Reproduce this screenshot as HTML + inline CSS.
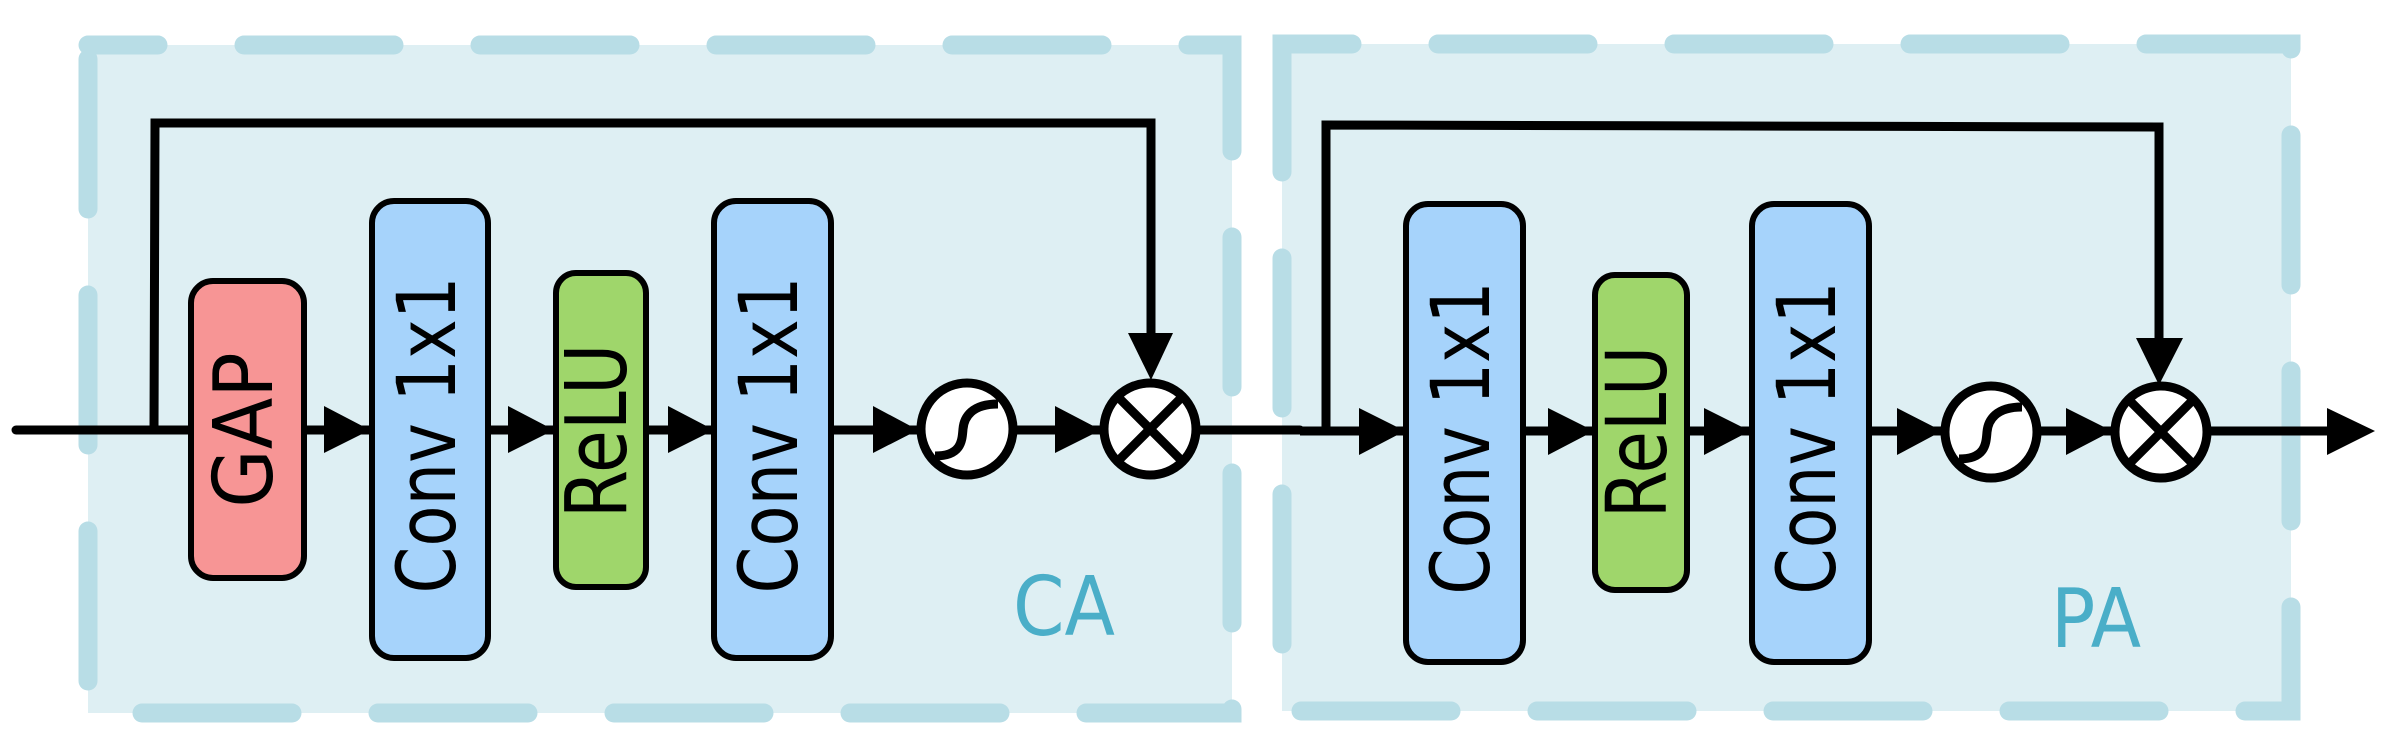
<!DOCTYPE html>
<html><head><meta charset="utf-8"><style>
html,body{margin:0;padding:0;background:#fff;}
svg{display:block;}
text{font-family:"DejaVu Sans",sans-serif;}
</style></head><body>
<svg width="2385" height="751" viewBox="0 0 2385 751" xmlns="http://www.w3.org/2000/svg">
<rect x="88" y="45" width="1144" height="668" fill="#deeff3"/>
<rect x="88" y="45" width="1144" height="668" fill="none" stroke="#b8dde6" stroke-width="19" stroke-linecap="round" stroke-dasharray="150 86" stroke-dashoffset="80"/>
<rect x="1282" y="44" width="1009" height="667" fill="#deeff3"/>
<rect x="1282" y="44" width="1009" height="667" fill="none" stroke="#b8dde6" stroke-width="19" stroke-linecap="round" stroke-dasharray="150 86" stroke-dashoffset="80"/>

<g stroke="#000" stroke-width="9" fill="none" stroke-linejoin="miter">
<line x1="16" y1="430" x2="1300" y2="430" stroke-linecap="round"/>
<line x1="1300" y1="431" x2="2330" y2="431"/>
<polyline points="154,430 155,123 1151,123 1151,340"/>
<polyline points="1326,431 1326,125 2159,127 2159,345"/>
</g>

<g stroke="#000" stroke-width="6">
<rect x="191" y="281" width="113" height="297" rx="22" fill="#f79595"/>
<rect x="372" y="201" width="116" height="457" rx="22" fill="#a6d3fb"/>
<rect x="556" y="273" width="90" height="314" rx="20" fill="#9fd66b"/>
<rect x="714" y="201" width="117" height="457" rx="22" fill="#a6d3fb"/>
<rect x="1406" y="204" width="117" height="458" rx="22" fill="#a6d3fb"/>
<rect x="1595" y="275" width="92" height="315" rx="20" fill="#9fd66b"/>
<rect x="1752" y="204" width="117" height="458" rx="22" fill="#a6d3fb"/>
</g>

<g fill="#000">
<polygon points="324,406 370,430 324,453"/>
<polygon points="508,406 554,430 508,453"/>
<polygon points="668,406 714,430 668,453"/>
<polygon points="873,406 918,430 873,453"/>
<polygon points="1055,406 1101,430 1055,453"/>
<polygon points="1128,333 1173,333 1151,380"/>
<polygon points="1359,408 1405,431 1359,455"/>
<polygon points="1548,408 1594,431 1548,455"/>
<polygon points="1704,408 1750,431 1704,455"/>
<polygon points="1897,408 1942,431 1897,455"/>
<polygon points="2066,408 2112,431 2066,455"/>
<polygon points="2136,338 2183,338 2159,385"/>
<polygon points="2327,408 2375,431 2327,455"/>
</g>

<g stroke="#000" stroke-width="9" fill="#fff">
<circle cx="967" cy="429" r="46"/>
<circle cx="1150" cy="429" r="46"/>
<circle cx="1991" cy="432" r="46"/>
<circle cx="2161" cy="432" r="46"/>
</g>
<g stroke="#000" stroke-width="9" fill="none">
<path d="M935,456 C962,456 962,440 963,429 C964,417 972,404 998,404"/>
<path d="M1959,459 C1986,459 1986,443 1987,432 C1988,420 1996,407 2022,407"/>
<path d="M1118,397 L1182,461 M1182,397 L1118,461"/>
<path d="M2129,400 L2193,464 M2193,400 L2129,464"/>
</g>

<g fill="#000">
<text transform="translate(272,430) rotate(-90) scale(0.92,1)" text-anchor="middle" font-size="82">GAP</text>
<text transform="translate(455,435) rotate(-90) scale(0.83,1)" text-anchor="middle" font-size="81">Conv 1x1</text>
<text transform="translate(626,431) rotate(-90) scale(0.82,1)" text-anchor="middle" font-size="85">ReLU</text>
<text transform="translate(797,435) rotate(-90) scale(0.83,1)" text-anchor="middle" font-size="81">Conv 1x1</text>
<text transform="translate(1489,438) rotate(-90) scale(0.82,1)" text-anchor="middle" font-size="81">Conv 1x1</text>
<text transform="translate(1666,432) rotate(-90) scale(0.82,1)" text-anchor="middle" font-size="84">ReLU</text>
<text transform="translate(1835,438) rotate(-90) scale(0.82,1)" text-anchor="middle" font-size="81">Conv 1x1</text>
</g>
<text transform="translate(1064,635) scale(0.9,1)" font-size="82" fill="#4aaec8" text-anchor="middle">CA</text>
<text transform="translate(2096,647) scale(0.9,1)" font-size="82" fill="#4aaec8" text-anchor="middle">PA</text>
</svg>
</body></html>
